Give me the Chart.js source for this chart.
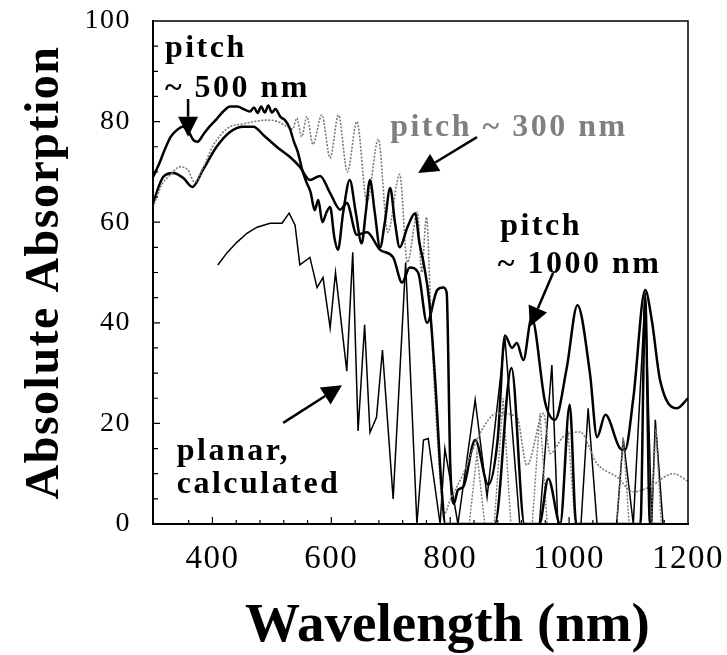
<!DOCTYPE html>
<html>
<head>
<meta charset="utf-8">
<script src="https://cdn.jsdelivr.net/npm/chart.js@4.4.1/dist/chart.umd.min.js"></script>
<style>
body { margin: 0; background: #fff; }
#wrap { width: 727px; height: 655px; }
</style>
</head>
<body>
<div id="wrap"><canvas id="myChart" width="727" height="655"></canvas></div>
<script>
// pitch ~500 nm (thick black)
var pitch500Nm  = [300, 310, 320, 330, 340, 350, 360, 368, 375, 385, 395, 407, 418, 430, 442, 452, 463, 470, 476, 482, 488, 494, 500, 506, 514, 522, 530, 537, 544, 551, 558, 565, 572, 578, 585, 592, 598, 605, 611, 620, 631, 641, 651, 658, 665, 673, 682, 690, 699, 707, 715, 728, 741, 748, 755, 765, 775, 785, 792, 875, 903, 925, 950, 965, 985, 1001, 1012, 1120, 1128, 1136, 1160];
var pitch500Abs = [69, 71.5, 74.5, 77, 78.3, 79, 78, 76.3, 76, 77.5, 79, 80.5, 82, 83, 83, 82.5, 82, 82.8, 81.7, 83, 81.8, 83.2, 81.8, 82.5, 81, 80.3, 78.7, 76, 73.8, 70.4, 68, 66, 62.4, 64.4, 60, 62, 63, 57, 54.5, 62, 68.4, 62, 55.8, 62, 68.4, 62, 55, 60, 66.8, 60, 55, 59, 61.8, 56, 52, 44, 28, 8, 0, 0, 31, 0, 0, 9, 0, 23.7, 0, 0, 45, 0, 0];

// pitch ~300 nm (grey dotted)
var pitch300Nm  = [300, 315, 330, 345, 358, 370, 385, 400, 415, 430, 450, 470, 490, 510, 525, 535, 542, 550, 559, 569, 584, 598, 612, 627, 643, 660, 679, 695, 715, 728, 745, 752, 760, 768, 778, 790, 800, 822, 850, 879, 912, 929, 957, 968, 990, 1018, 1047, 1081, 1108, 1136, 1175, 1200];
var pitch300Abs = [63, 67.5, 69.5, 71, 70.5, 68, 71, 75, 77.5, 79, 79.5, 80, 80.3, 80, 79, 78.5, 80.7, 77, 81, 75.5, 81.3, 72.8, 81.3, 70, 80, 64, 76.5, 58, 69.5, 52, 62, 50, 61, 40, 18, 2, 4.8, 10, 18, 22, 21.3, 11.7, 22, 14, 17.3, 18.3, 12, 9.3, 6.4, 7.4, 10, 8.5];

// second grey dotted trace: narrow peaks above 800 nm
var pitch300PeakNm  = [790, 832, 845, 858, 874, 889, 902, 938, 951, 963, 986, 998, 1010, 1080, 1091, 1101, 1138, 1146, 1155];
var pitch300PeakAbs = [0, 0, 14, 0, 0, 25, 0, 0, 22, 0, 0, 18.7, 0, 0, 17.3, 0, 0, 19, 0];

// pitch ~1000 nm (thick black)
var pitch1000Nm  = [300, 317, 334, 351, 366, 384, 407, 430, 452, 469, 486, 508, 530, 547, 564, 581, 598, 615, 626, 643, 660, 682, 704, 719, 732, 746, 761, 778, 788, 794, 800, 806, 813, 822, 842, 864, 880, 892, 904, 912, 923, 937, 960, 976, 996, 1014, 1035, 1047, 1061, 1086, 1094, 1108, 1128, 1139, 1153, 1181, 1200];
var pitch1000Abs = [63.8, 69, 69.8, 68.8, 67, 70.4, 75, 78, 79, 79, 77.3, 75, 73, 71, 68.4, 69.2, 65.8, 62.5, 63.8, 57.5, 58, 54.5, 53, 48, 51, 50, 40, 46.5, 47, 46, 12, 4, 6.8, 7.4, 16.7, 7.8, 17, 37.5, 35, 36, 32.6, 41, 24, 20.7, 31, 43.5, 30, 17.3, 21.7, 15, 14.7, 25, 46.5, 40.6, 28.6, 23, 25];

// planar, calculated (thin black)
var planarNm  = [409, 425, 441, 458, 475, 497, 517, 529, 539, 547, 564, 576, 586, 598, 607, 626, 636, 645, 656, 665, 676, 686, 704, 725, 744, 755, 763, 783, 791, 813, 842, 862, 892, 917, 950, 971, 981, 1020, 1032, 1047, 1080, 1091, 1108, 1128, 1139, 1145, 1158, 1165];
var planarAbs = [51.5, 54, 56, 57.8, 59, 59.8, 59.8, 61.8, 59.4, 51.5, 53, 47, 49, 39, 50, 30.4, 54, 18.5, 39.6, 18.2, 21.2, 34.6, 5, 52, 0, 16.7, 17, 0, 15, 0, 24.7, 5.4, 37, 0, 0, 31.6, 0, 0, 23, 0, 0, 17, 0, 46, 0, 20.7, 0, 0];

// axis ticks
var xMin = 300, xMax = 1200, xStep = 40, xLabelEvery = 200;
var yMin = 0, yMax = 100, yStep = 5, yLabelEvery = 20;

// labels and arrows, in data units
var notes = [
    { text: "pitch",          x: 320, y: 92.8, color: "#000" },
    { text: "~ 500 nm",       x: 320, y: 84.9, color: "#000" },
    { text: "pitch ~ 300 nm", x: 699, y: 77.1, color: "#808080" },
    { text: "pitch",          x: 884, y: 57.5, color: "#000" },
    { text: "~ 1000 nm",      x: 880, y: 49.9, color: "#000" },
    { text: "planar,",        x: 340, y: 12.7, color: "#000" },
    { text: "calculated",     x: 340, y: 6.2,  color: "#000" }
];
var arrows = [
    { x1: 359, y1: 84.5, x2: 359, y2: 77 },
    { x1: 845, y1: 76.9, x2: 746, y2: 69.8 },
    { x1: 973, y1: 49.9, x2: 934, y2: 39.2 },
    { x1: 519, y1: 20.1, x2: 618, y2: 27.6 }
];
var xTitle = "Wavelength (nm)";

function toPoints(xs, ys) {
    var pts = [];
    for (var i = 0; i < xs.length; i++) {
        pts.push({ x: xs[i], y: ys[i] });
    }
    return pts;
}

var serif = "'Liberation Serif', 'Times New Roman', serif";

var framePlugin = {
    id: "frame",
    beforeDraw: function(chart) {
        chart.ctx.letterSpacing = "1.5px";
    },
    afterDatasetsDraw: function(chart) {
        var ctx = chart.ctx;
        var a = chart.chartArea;
        var xs = chart.scales.x, ys = chart.scales.y;
        ctx.save();
        ctx.strokeStyle = "#000";
        ctx.lineWidth = 1.5;
        ctx.strokeRect(a.left, a.top, a.right - a.left, a.bottom - a.top);

        // inward ticks
        ctx.lineWidth = 1.2;
        ctx.beginPath();
        xs.ticks.forEach(function(t) {
            if (t.value <= xMin || t.value >= xMax) return;
            var px = xs.getPixelForValue(t.value);
            var len = t.value % xLabelEvery === 0 ? 7 : 4;
            ctx.moveTo(px, a.bottom);
            ctx.lineTo(px, a.bottom - len);
        });
        ys.ticks.forEach(function(t) {
            if (t.value <= yMin || t.value >= yMax) return;
            var py = ys.getPixelForValue(t.value);
            var len = t.value % yLabelEvery === 0 ? 7 : 5;
            ctx.moveTo(a.left, py);
            ctx.lineTo(a.left + len, py);
        });
        ctx.stroke();

        // text notes
        ctx.font = "bold 32px " + serif;
        ctx.letterSpacing = "2.5px";
        ctx.textAlign = "left";
        ctx.textBaseline = "alphabetic";
        notes.forEach(function(n) {
            ctx.fillStyle = n.color;
            ctx.fillText(n.text, xs.getPixelForValue(n.x), ys.getPixelForValue(n.y));
        });

        // arrows
        ctx.fillStyle = "#000";
        ctx.lineWidth = 2.5;
        arrows.forEach(function(ar) {
            var x1 = xs.getPixelForValue(ar.x1), y1 = ys.getPixelForValue(ar.y1);
            var x2 = xs.getPixelForValue(ar.x2), y2 = ys.getPixelForValue(ar.y2);
            var ang = Math.atan2(y2 - y1, x2 - x1);
            var head = 20, half = 10;
            var bx = x2 - head * Math.cos(ang), by = y2 - head * Math.sin(ang);
            ctx.beginPath();
            ctx.moveTo(x1, y1);
            ctx.lineTo(bx, by);
            ctx.stroke();
            ctx.beginPath();
            ctx.moveTo(x2, y2);
            ctx.lineTo(bx + half * Math.sin(ang), by - half * Math.cos(ang));
            ctx.lineTo(bx - half * Math.sin(ang), by + half * Math.cos(ang));
            ctx.closePath();
            ctx.fill();
        });

        // x axis title, set a little right of centre as in the original
        ctx.font = "bold 55px " + serif;
        ctx.letterSpacing = "0px";
        ctx.textAlign = "center";
        ctx.fillStyle = "#000";
        ctx.fillText(xTitle, (a.left + a.right) / 2 + 27, 641);
        ctx.restore();
    }
};

new Chart(document.getElementById("myChart"), {
    type: "line",
    data: {
        datasets: [{
            label: "pitch ~ 500 nm",
            data: toPoints(pitch500Nm, pitch500Abs),
            borderColor: "#000",
            borderWidth: 2.5,
            cubicInterpolationMode: "monotone"
        }, {
            label: "pitch ~ 300 nm",
            data: toPoints(pitch300Nm, pitch300Abs),
            borderColor: "#7a7a7a",
            borderWidth: 1.6,
            borderDash: [2, 1.5],
            cubicInterpolationMode: "monotone"
        }, {
            label: "pitch ~ 300 nm peaks",
            data: toPoints(pitch300PeakNm, pitch300PeakAbs),
            borderColor: "#7a7a7a",
            borderWidth: 1.4,
            borderDash: [2, 1.5],
            tension: 0
        }, {
            label: "pitch ~ 1000 nm",
            data: toPoints(pitch1000Nm, pitch1000Abs),
            borderColor: "#000",
            borderWidth: 2.5,
            cubicInterpolationMode: "monotone"
        }, {
            label: "planar, calculated",
            data: toPoints(planarNm, planarAbs),
            borderColor: "#000",
            borderWidth: 1.5,
            tension: 0
        }]
    },
    options: {
        responsive: false,
        animation: false,
        layout: { padding: { left: 0, right: 39, top: 21, bottom: 0 } },
        elements: { point: { radius: 0 } },
        plugins: {
            legend: { display: false },
            tooltip: { enabled: false }
        },
        scales: {
            x: {
                type: "linear",
                min: xMin,
                max: xMax,
                afterFit: function(s) { s.height = 131; s.paddingLeft = 0; s.paddingRight = 0; },
                grid: { display: false, drawTicks: false },
                border: { display: true, color: "#000", width: 2 },
                ticks: {
                    stepSize: xStep,
                    autoSkip: false,
                    maxRotation: 0,
                    padding: 16,
                    color: "#000",
                    font: { family: serif, size: 33 },
                    callback: function(v) { return v % xLabelEvery === 0 ? v : ""; }
                },
                title: { display: false }
            },
            y: {
                min: yMin,
                max: yMax,
                afterFit: function(s) { s.width = 153; s.paddingTop = 0; s.paddingBottom = 0; },
                grid: { display: false, drawTicks: false },
                border: { display: true, color: "#000", width: 2 },
                ticks: {
                    stepSize: yStep,
                    autoSkip: false,
                    padding: 22,
                    color: "#000",
                    font: { family: serif, size: 28 },
                    callback: function(v) { return v % yLabelEvery === 0 ? v : ""; }
                },
                title: {
                    display: true,
                    text: "Absolute Absorption",
                    color: "#000",
                    font: { family: serif, size: 48, weight: "bold", lineHeight: 1 },
                    padding: { top: 22, bottom: 0 }
                }
            }
        }
    },
    plugins: [framePlugin]
});
</script>
</body>
</html>
